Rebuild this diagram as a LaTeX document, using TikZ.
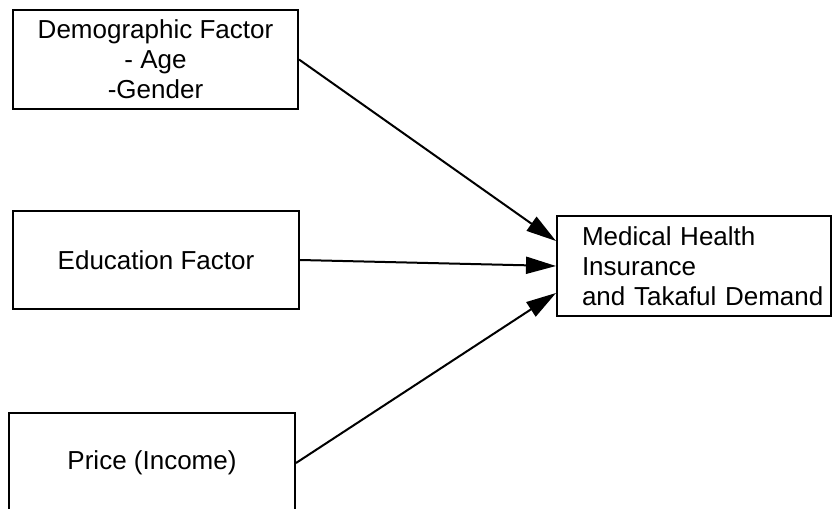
\documentclass[tikz,border=0pt]{standalone}
\usepackage{fontspec}
\setmainfont{Liberation Sans}
\usetikzlibrary{arrows.meta}

\begin{document}
\begin{tikzpicture}
  [x=1pt,y=-1pt,every node/.style={draw,rectangle,line width=2pt,inner sep=0pt,
   align=center,font=\fontsize{26}{30}\selectfont}]
  \useasboundingbox (0,0) rectangle (834,508);
  \node[minimum width=285pt,minimum height=99pt] (demo) at (155.5,59.5) {Demographic Factor\\- Age\\-Gender};
  \node[minimum width=286pt,minimum height=98pt] (edu) at (156,260) {Education Factor};
  \node[minimum width=286pt,minimum height=100pt] (price) at (152,463) {Price (Income)};
  \node[minimum width=274pt,minimum height=100pt,inner xsep=25pt,text width=224pt,align=left]
    (med) at (694,266) {Medical Health\\Insurance\\\mbox{and Takaful Demand}};
  \coordinate (m1) at ([yshift=25pt]med.west);
  \coordinate (m2) at (med.west);
  \coordinate (m3) at ([yshift=-27pt]med.west);
\foreach \from/\to in {demo/m1,edu/m2,price/m3}
    \draw[line width=2pt,-{Triangle[length=30pt,width=17pt]}] (\from.east) -- (\to);

\end{tikzpicture}
\end{document}
